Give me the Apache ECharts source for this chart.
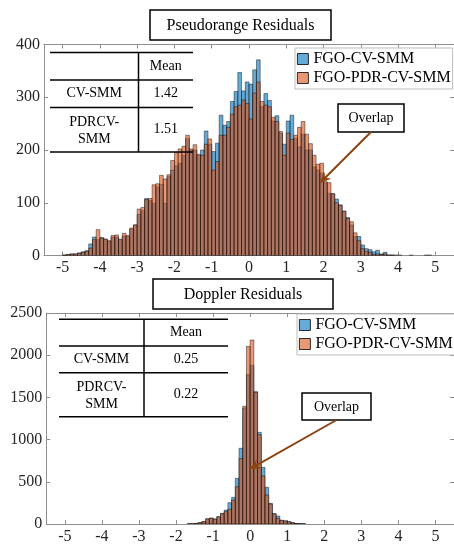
<!DOCTYPE html>
<html><head><meta charset="utf-8">
<script src="https://cdn.jsdelivr.net/npm/echarts@6/dist/echarts.min.js"></script>
<style>html,body{margin:0;padding:0;background:#fff}#c{width:454px;height:547px}</style>
</head><body><div id="c"></div>
<script>
// ---------- data ----------
const binStart = -5;
const binWidth = 0.1;
const seriesNames = ['FGO-CV-SMM', 'FGO-PDR-CV-SMM'];
const xTickValues = [-5, -4, -3, -2, -1, 0, 1, 2, 3, 4, 5];

// Pseudorange residual histogram counts (bins -5.0 .. 5.0, width 0.1)
const pseudoCvSmm = [
  1,2,3,3,5,7,9,22,35,30,
  34,31,27,35,35,30,37,36,50,58,
  78,85,108,104,99,130,135,99,150,162,
  170,175,190,222,200,200,190,200,236,211,
  197,213,266,247,254,292,311,347,312,329,
  325,352,371,282,307,294,255,265,232,211,
  255,266,222,206,230,200,200,168,162,156,
  138,118,117,107,96,84,72,58,36,36,
  20,13,11,7,10,3,6,1,1,1,
  0,0,0,1,0,0,0,0,1,0
];
const pseudoPdrCvSmm = [
  1,2,3,3,4,6,8,14,30,49,
  33,31,28,38,39,31,42,38,52,58,
  88,91,106,108,134,136,152,145,153,180,
  195,202,207,228,202,210,192,190,211,221,
  162,178,228,228,243,268,282,285,295,288,
  259,308,329,292,285,282,262,254,235,190,
  232,220,228,243,254,230,212,190,173,175,
  140,138,117,100,95,84,70,64,43,28,
  13,8,6,2,3,2,3,1,1,0,
  1,0,0,0,0,0,0,1,0,0
];
// Doppler residual histogram counts (bins -5.0 .. 5.0, width 0.1)
const dopplerCvSmm = [
  0,0,0,0,0,0,0,0,0,0,
  0,0,0,0,0,0,0,0,0,0,
  0,0,0,0,0,0,0,0,0,0,
  0,0,0,1,3,8,16,30,60,70,
  60,87,126,166,253,316,541,897,1375,1770,
  1880,1568,1086,671,435,245,125,95,45,38,
  28,16,6,3,1,0,0,0,0,0,
  0,0,0,0,0,0,0,0,0,0,
  0,0,0,0,0,0,0,0,0,0,
  0,0,0,0,0,0,0,0,0,0
];
const dopplerPdrCvSmm = [
  0,0,0,0,0,0,0,0,0,0,
  0,0,0,0,0,0,0,0,0,0,
  0,0,0,0,0,0,0,0,0,0,
  0,0,0,1,3,7,15,27,62,70,
  57,85,122,146,174,284,442,775,1395,2105,
  2180,1560,1058,570,344,237,118,67,40,35,
  25,14,5,2,1,0,0,0,0,0,
  0,0,0,0,0,0,0,0,0,0,
  0,0,0,0,0,0,0,0,0,0,
  0,0,0,0,0,0,0,0,0,0
];
const tableHeader = 'Mean';
const tableRows = ['CV-SMM', 'PDRCV-\nSMM'];
const pseudoMeans = ['1.42', '1.51'];
const dopplerMeans = ['0.25', '0.22'];
const titles = ['Pseudorange Residuals', 'Doppler Residuals'];
const annotationText = 'Overlap';
const arrowTips = [[1.91, 138], [-0.01, 652]];

// ---------- styles ----------
const FONT = '"Liberation Serif", "Times New Roman", serif';
const BLUE = 'rgba(0,114,189,0.6)';
const ORANGE = 'rgba(217,83,25,0.6)';
const BLUE_SOLID = 'rgb(102,170,215)';
const ORANGE_SOLID = 'rgb(232,152,117)';
const AXIS_GRAY = '#8f8f8f';
const LABEL = '#262626';
const ARROW = '#8B4513';

function toHist(counts) {
  return counts.map((c, i) => [binStart + i * binWidth, binStart + (i + 1) * binWidth, c]);
}
function makeRender(fill) {
  return function (params, api) {
    const y = api.value(2);
    if (!y) return null;
    const p0 = api.coord([api.value(0), y]);
    const p1 = api.coord([api.value(1), 0]);
    return {
      type: 'rect',
      shape: { x: p0[0], y: p0[1], width: p1[0] - p0[0], height: p1[1] - p0[1] },
      style: { fill: fill, stroke: 'rgba(0,0,0,0.85)', lineWidth: 0.5 }
    };
  };
}

const grids = [
  { left: 44, top: 44.5, width: 411, height: 211 },
  { left: 46.3, top: 313, width: 412.5, height: 211 }
];
const yMax = [400, 2500];
const yInt = [100, 500];
const labelMargins = [4, 5];

const xAxes = [], yAxes = [];
grids.forEach((g, gi) => {
  const tick = { show: true, inside: true, length: 4, customValues: xTickValues, lineStyle: { color: AXIS_GRAY } };
  xAxes.push({
    gridIndex: gi, type: 'value', min: -5.5, max: 5.5, position: 'bottom',
    axisLine: { show: true, onZero: false, lineStyle: { color: AXIS_GRAY } },
    axisTick: tick,
    axisLabel: { customValues: xTickValues, color: LABEL, fontFamily: FONT, fontSize: 16, margin: labelMargins[gi] },
    splitLine: { show: false }
  });
  xAxes.push({
    gridIndex: gi, type: 'value', min: -5.5, max: 5.5, position: 'top',
    axisLine: { show: true, onZero: false, lineStyle: { color: AXIS_GRAY } },
    axisTick: tick, axisLabel: { show: false }, splitLine: { show: false }
  });
  yAxes.push({
    gridIndex: gi, type: 'value', min: 0, max: yMax[gi], interval: yInt[gi], position: 'left',
    axisLine: { show: true, onZero: false, lineStyle: { color: AXIS_GRAY } },
    axisTick: { show: true, inside: true, length: 4, lineStyle: { color: AXIS_GRAY } },
    axisLabel: { color: LABEL, fontFamily: FONT, fontSize: 16, margin: 4, formatter: v => String(v) },
    splitLine: { show: false }
  });
  yAxes.push({
    gridIndex: gi, type: 'value', min: 0, max: yMax[gi], interval: yInt[gi], position: 'right',
    axisLine: { show: true, onZero: false, lineStyle: { color: AXIS_GRAY } },
    axisTick: { show: true, inside: true, length: 4, lineStyle: { color: AXIS_GRAY } },
    axisLabel: { show: false }, splitLine: { show: false }
  });
});

function histSeries(name, counts, fill, gi) {
  return {
    type: 'custom', name: name, xAxisIndex: gi * 2, yAxisIndex: gi * 2,
    data: toHist(counts), encode: { x: [0, 1], y: 2 },
    renderItem: makeRender(fill), itemStyle: { color: fill }, clip: true, silent: true
  };
}

const legendBase = {
  orient: 'vertical', icon: 'rect', itemWidth: 11, itemHeight: 11, itemGap: 3,
  padding: [3, 2, 3, 2], borderColor: '#bdbdbd', borderWidth: 1, backgroundColor: '#fff',
  textStyle: { fontFamily: FONT, fontSize: 16, color: '#000', lineHeight: 16 },
  selectedMode: false,
  data: [
    { name: seriesNames[0], itemStyle: { color: BLUE_SOLID, borderColor: '#000', borderWidth: 0.8 } },
    { name: seriesNames[1], itemStyle: { color: ORANGE_SOLID, borderColor: '#000', borderWidth: 0.8 } }
  ]
};

const chart = echarts.init(document.getElementById('c'), null, { renderer: 'canvas' });
chart.setOption({
  animation: false,
  backgroundColor: '#fff',
  grid: grids,
  xAxis: xAxes,
  yAxis: yAxes,
  legend: [
    Object.assign({}, legendBase, { left: 295, top: 48 }),
    Object.assign({}, legendBase, { left: 297, top: 314 })
  ],
  series: [
    histSeries(seriesNames[0], pseudoCvSmm, BLUE, 0),
    histSeries(seriesNames[1], pseudoPdrCvSmm, ORANGE, 0),
    histSeries(seriesNames[0], dopplerCvSmm, BLUE, 1),
    histSeries(seriesNames[1], dopplerPdrCvSmm, ORANGE, 1)
  ]
});

// ---------- annotations (figure-space) ----------
function line(x1, y1, x2, y2, w, c) {
  return { type: 'line', shape: { x1, y1, x2, y2 }, style: { stroke: c || '#000', lineWidth: w || 1.5 }, z: 100 };
}
function text(x, y, s, size) {
  return { type: 'text', x: x, y: y, z: 101,
    style: { text: s, fontFamily: FONT, fontSize: size, fill: '#000',
      align: 'center', verticalAlign: 'middle', textAlign: 'center', textVerticalAlign: 'middle', lineHeight: 17 } };
}
function box(x, y, w, h, lw) {
  return { type: 'rect', shape: { x, y, width: w, height: h }, z: 99,
    style: { fill: '#fff', stroke: '#000', lineWidth: lw } };
}
function arrow(x1, y1, x2, y2) {
  const dx = x2 - x1, dy = y2 - y1, L = Math.hypot(dx, dy), ux = dx / L, uy = dy / L;
  const hl = 10, hw = 4.5, nx = -uy, ny = ux;
  const bx = x2 - ux * hl, by = y2 - uy * hl;
  const kx = x2 - ux * hl * 0.7, ky = y2 - uy * hl * 0.7;
  return [
    line(x1, y1, kx, ky, 2, ARROW),
    { type: 'polygon', z: 100, shape: { points: [[x2, y2], [bx + nx * hw, by + ny * hw], [kx, ky], [bx - nx * hw, by - ny * hw]] },
      style: { fill: ARROW, stroke: ARROW, lineWidth: 0.5 } }
  ];
}
function table(x0, xm, x1, ys, means) {
  const els = [];
  ys.forEach(y => els.push(line(x0, y, x1, y)));
  els.push(line(xm, ys[0], xm, ys[ys.length - 1]));
  const c0 = (x0 + xm) / 2, c1 = (xm + x1) / 2;
  els.push(text(c1, (ys[0] + ys[1]) / 2, tableHeader, 14));
  els.push(text(c0, (ys[1] + ys[2]) / 2, tableRows[0], 14));
  els.push(text(c1, (ys[1] + ys[2]) / 2, means[0], 14));
  els.push(text(c0, (ys[2] + ys[3]) / 2 + 1.5, tableRows[1], 14));
  els.push(text(c1, (ys[2] + ys[3]) / 2, means[1], 14));
  return els;
}

const tip0 = chart.convertToPixel({ xAxisIndex: 0, yAxisIndex: 0 }, arrowTips[0]);
const tip1 = chart.convertToPixel({ xAxisIndex: 2, yAxisIndex: 2 }, arrowTips[1]);

const gfx = [].concat(
  [box(150, 10, 181, 30, 1.5), text(240.5, 25.5, titles[0], 16)],
  [box(153, 279, 180, 30, 1.5), text(243, 294.5, titles[1], 16)],
  table(50, 138.5, 193, [52.5, 80, 107.5, 152], pseudoMeans),
  table(59, 144, 228, [319.3, 346, 372.7, 416.7], dopplerMeans),
  [box(338, 104, 66, 28, 1.5), text(371, 118.5, annotationText, 14)],
  arrow(371, 132, tip0[0], tip0[1]),
  [box(302, 393, 69, 27, 1.5), text(336.5, 407, annotationText, 14)],
  arrow(336.5, 420, tip1[0], tip1[1])
);
chart.setOption({ graphic: { elements: gfx } });
</script>
</body></html>
